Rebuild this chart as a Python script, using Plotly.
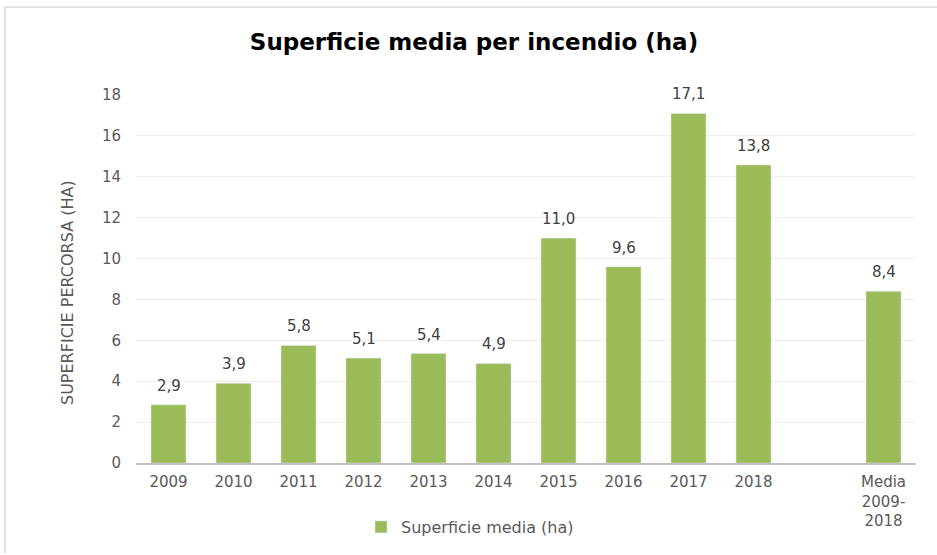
import plotly.graph_objects as go

categories = ["2009", "2010", "2011", "2012", "2013", "2014", "2015", "2016", "2017", "2018", " ", "Media<br>2009-<br>2018"]
values = [2.85, 3.9, 5.75, 5.13, 5.35, 4.87, 11.0, 9.6, 17.1, 14.58, None, 8.4]
labels = ["2,9", "3,9", "5,8", "5,1", "5,4", "4,9", "11,0", "9,6", "17,1", "13,8", "", "8,4"]
y_ticks = [0, 2, 4, 6, 8, 10, 12, 14, 16, 18]

FONT = "DejaVu Sans"
L, R, T, B = 136, 21, 95, 92
W, H = 937, 555
pw, ph = W - L - R, H - T - B

def px(x):
    return (x - L) / pw

def py(y):
    return (H - B - y) / ph

fig = go.Figure()
fig.add_trace(go.Bar(
    x=categories, y=values,
    marker=dict(color="#9BBB59"),
    name="Superficie media (ha)", cliponaxis=False,
))

annotations = []
for i, (v, t) in enumerate(zip(values, labels)):
    if v is None:
        continue
    # on a category axis, numeric x is the category index
    annotations.append(dict(x=i, y=v, xref="x", yref="y", text=t, showarrow=False,
                            yanchor="middle", yshift=19,
                            font=dict(size=15, color="#404040", family=FONT)))
annotations.append(dict(x=px(67), y=py(293), xref="paper", yref="paper",
                        text="SUPERFICIE PERCORSA (HA)", textangle=-90, showarrow=False,
                        xanchor="center", yanchor="middle",
                        font=dict(size=16, color="#595959", family=FONT)))

fig.update_layout(
    width=W, height=H,
    margin=dict(l=L, r=R, t=T, b=B, autoexpand=False),
    paper_bgcolor="white", plot_bgcolor="white",
    font=dict(family=FONT, color="#595959", size=15),
    bargap=0.46,
    showlegend=True,
    legend=dict(orientation="h", x=px(470), xanchor="center", y=py(527), yanchor="middle",
                font=dict(size=16, color="#595959", family=FONT), itemwidth=30),
    title=dict(text="<b>Superficie media per incendio (ha)</b>", x=px(474), xref="paper",
               xanchor="center", y=1 - 42 / H, yanchor="middle",
               font=dict(size=23, color="#000000", family=FONT)),
    xaxis=dict(type="category", categoryorder="array", categoryarray=categories,
               range=[-0.5, len(categories) - 0.5],
               showgrid=False, showline=True, linecolor="#bfbfbf", linewidth=2,
               ticks="", ticklabelstandoff=4, tickfont=dict(size=15, color="#595959")),
    yaxis=dict(range=[0, 18], tickvals=y_ticks, showgrid=True, gridcolor="#efefef",
               zeroline=False, showline=False, ticks="", ticklabelstandoff=14,
               tickfont=dict(size=15, color="#595959")),
    annotations=annotations,
    shapes=[
        dict(type="line", xref="paper", yref="paper", x0=px(5), x1=px(940), y0=py(7), y1=py(7),
             line=dict(color="#d9d9d9", width=1.5)),
        dict(type="line", xref="paper", yref="paper", x0=px(5), x1=px(5), y0=py(7), y1=py(553),
             line=dict(color="#d9d9d9", width=1.5)),
    ],
)

fig.write_html("out.html", config={"displayModeBar": False},
               post_script="document.body.style.margin='0';")
